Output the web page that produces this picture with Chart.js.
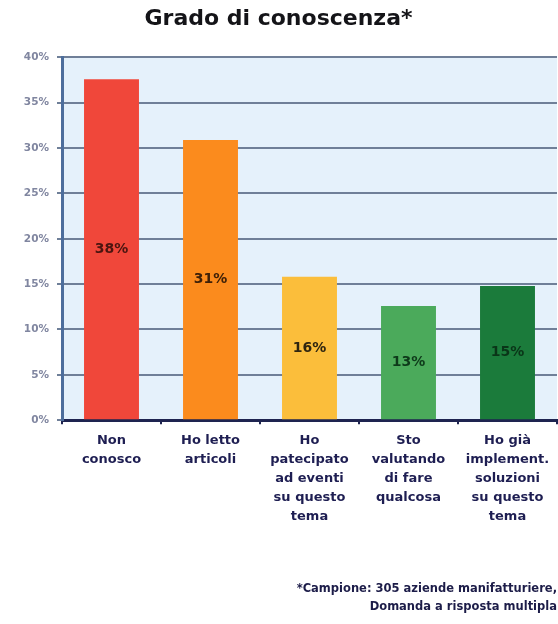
<!DOCTYPE html>
<html>
<head>
<meta charset="utf-8">
<script src="https://cdn.jsdelivr.net/npm/chart.js@4/dist/chart.umd.min.js"></script>
<style>
  html, body { margin: 0; padding: 0; background: #fff; }
  canvas { display: block; }
</style>
</head>
<body>
<canvas id="chart" width="558" height="624"></canvas>
<script>
// ─── Data ─────────────────────────────────────────────────────────────────────

const categories = [
  ['Non', 'conosco'],
  ['Ho letto', 'articoli'],
  ['Ho', 'patecipato', 'ad eventi', 'su questo', 'tema'],
  ['Sto', 'valutando', 'di fare', 'qualcosa'],
  ['Ho già', 'implement.', 'soluzioni', 'su questo', 'tema'],
];
const values      = [37.6, 30.9, 15.8, 12.6, 14.8];
const valueLabels = ['38%', '31%', '16%', '13%', '15%'];
const yTickLabels = ['0%', '5%', '10%', '15%', '20%', '25%', '30%', '35%', '40%'];

const barColors   = ['#f0473a', '#fb8b1d', '#fbbe3b', '#4baa5b', '#1b7b3b'];
const labelColors = ['#4a1510', '#3e2008', '#2e2510', '#0e3a1a', '#0a3518'];

const FONT = '"DejaVu Sans", Verdana, sans-serif';

// ─── Plugins ──────────────────────────────────────────────────────────────────

const plotBackground = {
  id: 'plotBackground',
  beforeDraw(chart) {
    const { ctx, chartArea: a } = chart;
    ctx.save();
    ctx.fillStyle = '#e5f1fb';
    ctx.fillRect(a.left, a.top, a.right - a.left, a.bottom - a.top);
    ctx.restore();
  },
};

const barLabels = {
  id: 'barLabels',
  afterDatasetsDraw(chart) {
    const { ctx } = chart;
    const meta = chart.getDatasetMeta(0);
    ctx.save();
    ctx.font = `bold 14px ${FONT}`;
    ctx.textAlign = 'center';
    ctx.textBaseline = 'middle';
    meta.data.forEach((bar, i) => {
      ctx.fillStyle = labelColors[i];
      ctx.fillText(valueLabels[i], bar.x, (bar.y + bar.base) / 2);
    });
    ctx.restore();
  },
};

// ─── Chart ────────────────────────────────────────────────────────────────────

new Chart(document.getElementById('chart'), {
  type: 'bar',
  data: {
    labels: categories,
    datasets: [{
      data: values,
      backgroundColor: barColors,
      borderWidth: 0,
      categoryPercentage: 1,
      barPercentage: 0.555,
    }],
  },
  options: {
    responsive: false,
    animation: false,
    layout: { padding: { left: 0, right: 1, top: 0, bottom: 0 } },
    scales: {
      x: {
        ticks: { color: '#1e1e52', font: { family: FONT, size: 13, weight: 'bold', lineHeight: 1.46 }, padding: 7, maxRotation: 0, autoSkip: false },
        grid: { display: true, drawOnChartArea: false, offset: true, tickLength: 4, color: '#1e2450', lineWidth: 2 },
        border: { color: '#1e2450', width: 3 },
      },
      y: {
        min: 0, max: 40,
        ticks: {
          stepSize: 5, color: '#8086a0', padding: 8,
          font: { family: FONT, size: 10.5, weight: 'bold' },
          callback: (v, i) => yTickLabels[i],
        },
        grid: { color: '#6f7f98', lineWidth: 2, tickLength: 5 },
        border: { color: '#4d6e9c', width: 3 },
        afterFit: scale => { scale.width = 62; },
      },
    },
    plugins: {
      legend: { display: false },
      tooltip: { enabled: false },
      title: {
        display: true,
        text: 'Grado di conoscenza*',
        color: '#141418',
        font: { family: FONT, size: 22, weight: 'bold' },
        padding: { top: 6, bottom: 25 },
      },
      subtitle: {
        display: true,
        position: 'bottom',
        align: 'end',
        text: ['*Campione: 305 aziende manifatturiere,', 'Domanda a risposta multipla'],
        color: '#1c1c48',
        font: { family: FONT, size: 11.5, weight: 'bold', lineHeight: 1.65 },
        padding: { top: 46, bottom: 7 },
      },
    },
  },
  plugins: [plotBackground, barLabels],
});
</script>
</body>
</html>
